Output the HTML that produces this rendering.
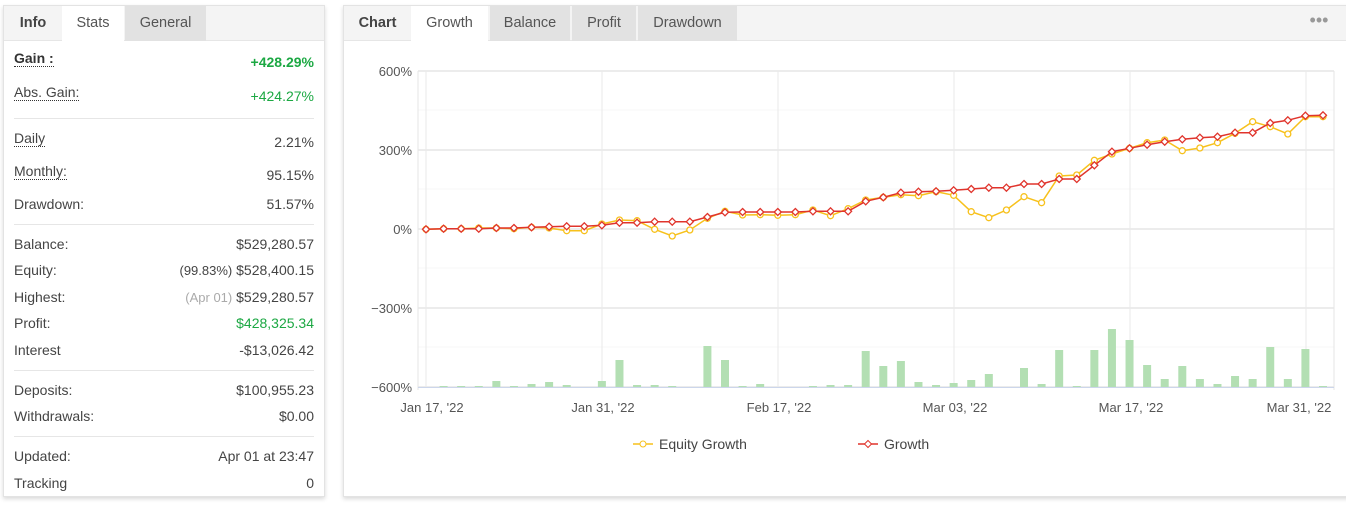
<!DOCTYPE html>
<html><head><meta charset="utf-8"><style>
*{box-sizing:border-box;margin:0;padding:0}
body{width:1346px;height:512px;background:#fff;font-family:"Liberation Sans",sans-serif;color:#444;position:relative;overflow:hidden}
.panel{position:absolute;background:#fff;border:1px solid #e3e3e3;box-shadow:0 2px 4px rgba(0,0,0,.15)}
.tabs{position:absolute;left:0;top:0;right:0;height:35px;background:#f4f4f4;border-bottom:1px solid #e6e6e6}
.tab{position:absolute;top:0;height:35px;line-height:34px;font-size:14.5px;text-align:center;color:#555}
.row{position:absolute;left:10px;right:10px;font-size:14px;color:#444}
.row .r{position:absolute;right:0;top:0}
.dot{border-bottom:1px dotted #333}
.sep{position:absolute;left:10px;right:10px;height:1px;background:#e6e6e6}
.g{color:#1ca843}
</style></head><body>
<div class="panel" style="left:3px;top:5px;width:322px;height:492px">
 <div class="tabs">
  <div class="tab" style="left:0;width:58px;font-weight:bold;color:#444">Info</div>
  <div class="tab" style="left:58px;width:62px;background:#fff;height:36px">Stats</div>
  <div class="tab" style="left:121px;width:81px;background:#e2e2e2">General</div>
 </div>
 <div class="row" style="top:44px"><b class="dot" style="color:#333">Gain :</b><span class="r g" style="font-weight:bold;top:4px">+428.29%</span></div>
 <div class="row" style="top:78px"><span class="dot">Abs. Gain:</span><span class="r g" style="top:4px">+424.27%</span></div>
 <div class="sep" style="top:112px"></div>
 <div class="row" style="top:124px"><span class="dot">Daily</span><span class="r" style="top:4px">2.21%</span></div>
 <div class="row" style="top:157px"><span class="dot">Monthly:</span><span class="r" style="top:4px">95.15%</span></div>
 <div class="row" style="top:190px">Drawdown:<span class="r">51.57%</span></div>
 <div class="sep" style="top:218px"></div>
 <div class="row" style="top:230px">Balance:<span class="r">$529,280.57</span></div>
 <div class="row" style="top:256px">Equity:<span class="r"><span style="font-size:13px">(99.83%)</span> $528,400.15</span></div>
 <div class="row" style="top:283px">Highest:<span class="r"><span style="font-size:13px;color:#aaa">(Apr 01)</span> $529,280.57</span></div>
 <div class="row" style="top:309px">Profit:<span class="r g">$428,325.34</span></div>
 <div class="row" style="top:336px">Interest<span class="r">-$13,026.42</span></div>
 <div class="sep" style="top:364px"></div>
 <div class="row" style="top:376px">Deposits:<span class="r">$100,955.23</span></div>
 <div class="row" style="top:402px">Withdrawals:<span class="r">$0.00</span></div>
 <div class="sep" style="top:430px"></div>
 <div class="row" style="top:442px">Updated:<span class="r">Apr 01 at 23:47</span></div>
 <div class="row" style="top:469px">Tracking<span class="r">0</span></div>
</div>
<div class="panel" style="left:343px;top:5px;width:1010px;height:492px">
 <div class="tabs">
  <div class="tab" style="left:0;width:67px;font-weight:bold;color:#444">Chart</div>
  <div class="tab" style="left:67px;width:77px;background:#fff;height:36px">Growth</div>
  <div class="tab" style="left:146px;width:80px;background:#e2e2e2">Balance</div>
  <div class="tab" style="left:228px;width:64px;background:#e2e2e2">Profit</div>
  <div class="tab" style="left:294px;width:99px;background:#e2e2e2">Drawdown</div>
  <div class="tab" style="left:960px;width:30px;color:#999;font-size:18px;line-height:28px">•••</div>
 </div>
</div>
<svg id="c" width="1346" height="512" style="position:absolute;left:0;top:0" font-family="Liberation Sans, sans-serif"></svg>
<script>
var svg=document.getElementById('c'),h='';
var ry=[229.3,228.7,228.7,228.7,228,228,227.3,226.7,226.3,226.3,225.3,222.7,222.7,221.7,221.7,221.7,217,212.3,212,212,212,212,211.3,211.3,211.3,201.3,197.3,192.7,191.7,191.3,190.3,189,187.7,187.7,184,184,179,179,165.3,151.7,148.3,144.7,141.7,139.3,137.7,136.7,132.7,132.7,123,120.3,115.7,115.3];
var yy=[229.3,228.7,228.7,228,228,228.7,227.3,228,230.7,230.7,224,220,220.7,229.3,236,230,218.3,211.3,215,214.7,215.3,214.7,210,215.7,208.7,200,197.3,194.7,195.7,191.7,195.3,211.7,217.7,210,196.7,202.7,176,175,160.3,154,148.3,142.7,140,150.7,148,142.7,133.3,121.7,126.7,134,116.7,116.7];
var bh=[0,1,1,1,6,1,3,5,2,0,6,27,2,2,1,0,41,27,1,3,0,0,1,2,2,36,21,26,5,2,4,7,13,0,19,3,37,1,37,58,47,22,8,21,8,3,11,8,40,8,38,1];
function X(i){return 426+i*(1323-426)/51}
[71,150,229,308,387].forEach(function(y){h+='<line x1="418" x2="1334" y1="'+y+'" y2="'+y+'" stroke="#ececec" stroke-width="2"/>'});
[110,189,268,347].forEach(function(y){h+='<line x1="418" x2="1334" y1="'+y+'" y2="'+y+'" stroke="#f7f7f7"/>'});
[426,602,778,954,1130,1306].forEach(function(x){h+='<line x1="'+x+'" x2="'+x+'" y1="71" y2="387" stroke="#eaeaea"/>'});
h+='<line x1="418" x2="418" y1="71" y2="390" stroke="#e6e6e6"/><line x1="1334" x2="1334" y1="71" y2="390" stroke="#e6e6e6"/>';
bh.forEach(function(b,i){if(b>0)h+='<rect x="'+(X(i)-4)+'" y="'+(387-b)+'" width="8" height="'+b+'" fill="#b3dfb3"/>'});
h+='<line x1="418" x2="1334" y1="387.5" y2="387.5" stroke="#ccd6eb"/>';
function pl(a,c){return '<polyline fill="none" stroke="'+c+'" stroke-width="1.5" points="'+a.map(function(y,i){return X(i).toFixed(1)+','+y}).join(' ')+'"/>'}
h+=pl(yy,'#f7c11c');
yy.forEach(function(y,i){h+='<circle cx="'+X(i)+'" cy="'+y+'" r="3" fill="#fff" stroke="#f7c11c" stroke-width="1.3"/>'});
h+=pl(ry,'#e0342c');
ry.forEach(function(y,i){var x=X(i);h+='<path d="M'+x+' '+(y-3.5)+'L'+(x+3.5)+' '+y+'L'+x+' '+(y+3.5)+'L'+(x-3.5)+' '+y+'Z" fill="#fff" stroke="#e0342c" stroke-width="1.3"/>'});
[['600%',71],['300%',150],['0%',229],['\u2212300%',308],['\u2212600%',387]].forEach(function(t){h+='<text x="412" y="'+(t[1]+5)+'" text-anchor="end" font-size="13" fill="#555">'+t[0]+'</text>'});
[["Jan 17, '22",432],["Jan 31, '22",603],["Feb 17, '22",779],["Mar 03, '22",955],["Mar 17, '22",1131],["Mar 31, '22",1299]].forEach(function(t){h+='<text x="'+t[1]+'" y="412" text-anchor="middle" font-size="13" fill="#555">'+t[0]+'</text>'});
h+='<line x1="633" x2="653" y1="444" y2="444" stroke="#f7c11c" stroke-width="1.5"/><circle cx="643" cy="444" r="3" fill="#fff" stroke="#f7c11c"/><text x="659" y="449" font-size="14" fill="#444">Equity Growth</text>';
h+='<line x1="858" x2="878" y1="444" y2="444" stroke="#e0342c" stroke-width="1.5"/><path d="M868 440.5L871.5 444L868 447.5L864.5 444Z" fill="#fff" stroke="#e0342c"/><text x="884" y="449" font-size="14" fill="#444">Growth</text>';
svg.innerHTML=h;
</script>
</body></html>
